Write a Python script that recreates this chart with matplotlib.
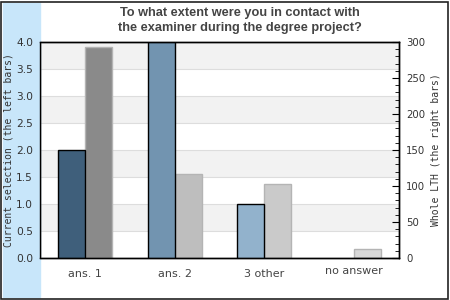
import numpy as np
import matplotlib
matplotlib.use("Agg")
import matplotlib.pyplot as plt
from matplotlib.patches import Rectangle

# data
categories = ["ans. 1", "ans. 2", "3 other", "no answer"]
current_sel = [2, 4, 1, 0]
whole_lth = [293, 117, 103, 12]
left_colors = ["#3f5f7b", "#7294b0", "#92b2cc", "#b0c8dc"]
right_colors = ["#8a8a8a", "#bebebe", "#cacaca", "#d8d8d8"]

fig = plt.figure(figsize=(4.5, 3), dpi=100)

# light blue strip on the left + outer frame
fig.patches.append(Rectangle((3 / 450, 3 / 300), 37 / 450, 294 / 300,
                             transform=fig.transFigure, color="#c8e6fa", zorder=0))
fig.patches.append(Rectangle((1 / 450, 1 / 300), 447 / 450, 297 / 300,
                             transform=fig.transFigure, fill=False,
                             edgecolor="#222222", lw=1.2, zorder=5))

ax = fig.add_axes([40 / 450, 42 / 300, 359 / 450, 216 / 300])
ax2 = ax.twinx()

# alternating bands (on the lower axes so that all bars sit above them)
for k in range(8):
    if k % 2 == 1:
        ax2.axhspan(k * 37.5, (k + 1) * 37.5, color="#f2f2f2", zorder=0, lw=0)
    ax2.axhline(k * 37.5, color="#dddddd", lw=0.8, zorder=0.5)

x = np.arange(len(categories))
w = 0.3
left_edges = ["black" if v > 0 else "none" for v in current_sel]
ax.bar(x - w / 2, current_sel, w, color=left_colors, edgecolor=left_edges, lw=1, zorder=2)
ax2.bar(x + w / 2, whole_lth, w, color=right_colors, edgecolor="#b4b4b4", lw=1, zorder=2)

ax.set_xlim(-0.5, 3.5)
ax.set_ylim(0, 4)
ax2.set_ylim(0, 300)
ax.set_yticks(np.arange(0, 4.01, 0.5))
ax.set_yticklabels([f"{v:.1f}" for v in np.arange(0, 4.01, 0.5)])
ax2.set_yticks(np.arange(0, 301, 50))
ax2.set_yticks(np.arange(0, 301, 10), minor=True)

ax.set_xticks(x)
ax.set_xticklabels(categories)
for i, lab in enumerate(ax.get_xticklabels()):
    lab.set_y(-0.025 if i == 3 else -0.04)

ax.tick_params(axis="y", length=0, labelsize=7.7, labelcolor="#333333", pad=5)
ax.tick_params(axis="x", length=0, labelsize=8, labelcolor="#444444", pad=2)
ax2.tick_params(axis="y", which="major", direction="in", length=5, labelsize=7.3,
                labelcolor="#333333", pad=5)
ax2.tick_params(axis="y", which="minor", direction="in", length=3)

for a in (ax, ax2):
    for s in a.spines.values():
        s.set_linewidth(1)
        s.set_color("black")

ax.set_zorder(ax2.get_zorder() + 1)
ax.patch.set_visible(False)
ax2.patch.set_visible(True)
ax2.patch.set_facecolor("white")

mono = {"family": "DejaVu Sans Mono", "size": 7, "color": "#333333"}
fig.text(9 / 450, 0.5, "Current selection (the left bars)", rotation=90,
         ha="center", va="center", fontdict=mono)
fig.text(436 / 450, 0.5, "Whole LTH (the right bars)", rotation=90,
         ha="center", va="center", fontdict=mono)

fig.text(0.5 + 15 / 450, 1 - 20.5 / 300,
         "To what extent were you in contact with\nthe examiner during the degree project?",
         ha="center", va="center", fontsize=9.2, fontweight="bold",
         family="Liberation Sans", color="#444444", linespacing=1.25)

fig.savefig("out.png", dpi=100, facecolor="white")
